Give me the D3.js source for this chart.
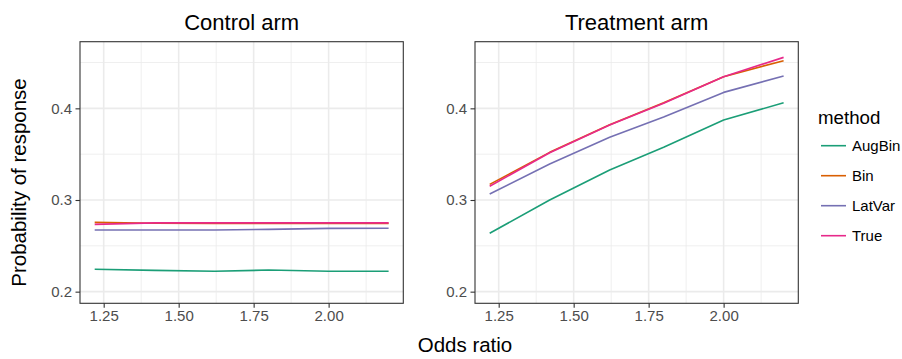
<!DOCTYPE html>
<html>
<head>
<meta charset="utf-8">
<script src="https://cdn.jsdelivr.net/npm/d3@7/dist/d3.min.js"></script>
<style>
  html, body { margin: 0; padding: 0; background: #fff; }
  svg { display: block; font-family: "Liberation Sans", Arial, Helvetica, sans-serif; }
</style>
</head>
<body>
<svg id="chart" width="902" height="359"></svg>
<script>
// ---- data ----
const oddsRatios = [1.22, 1.42, 1.62, 1.80, 2.00, 2.20];
const methods = ["AugBin", "Bin", "LatVar", "True"];
const colors = ["#1B9E77", "#D95F02", "#7570B3", "#E7298A"];
const panels = ["Control arm", "Treatment arm"];

const controlAugBin = [0.2244, 0.2232, 0.2222, 0.2236, 0.2222, 0.2222];
const controlBin    = [0.2756, 0.2746, 0.2745, 0.2745, 0.2745, 0.2745];
const controlLatVar = [0.2673, 0.2673, 0.2672, 0.2680, 0.2690, 0.2691];
const controlTrue   = [0.2734, 0.2750, 0.2750, 0.2750, 0.2750, 0.2750];

const treatAugBin = [0.2637, 0.3000, 0.3327, 0.3575, 0.3872, 0.4061];
const treatBin    = [0.3170, 0.3520, 0.3820, 0.4060, 0.4345, 0.4520];
const treatLatVar = [0.3065, 0.3393, 0.3684, 0.3905, 0.4174, 0.4352];
const treatTrue   = [0.3150, 0.3516, 0.3818, 0.4055, 0.4345, 0.4556];

const xTicks = [1.25, 1.50, 1.75, 2.00];
const xMinor = [1.375, 1.625, 1.875, 2.125];
const yTicks = [0.2, 0.3, 0.4];
const yMinor = [0.25, 0.35, 0.45];

const panelSeries = [
  [controlAugBin, controlBin, controlLatVar, controlTrue],
  [treatAugBin, treatBin, treatLatVar, treatTrue]
];

// ---- layout ----
(function () {
const svg = d3.select("#chart");
const panelBoxes = [
  { left: 80, right: 403.3 },
  { left: 475, right: 798.3 }
];
const pTop = 41.7, pBottom = 303.3;
const xDomain = [1.171, 2.249];
const yDomain = [0.1873, 0.4727];
const color = d3.scaleOrdinal().domain(methods).range(colors);

panelBoxes.forEach((box, pi) => {
  const x = d3.scaleLinear().domain(xDomain).range([box.left, box.right]);
  const y = d3.scaleLinear().domain(yDomain).range([pBottom, pTop]);
  const g = svg.append("g");

  g.append("rect").attr("x", box.left).attr("y", pTop)
    .attr("width", box.right - box.left).attr("height", pBottom - pTop)
    .attr("fill", "#fff");

  // minor grid
  g.selectAll(".ymin").data(yMinor).enter().append("line")
    .attr("x1", box.left).attr("x2", box.right)
    .attr("y1", d => y(d)).attr("y2", d => y(d))
    .attr("stroke", "#EBEBEB").attr("stroke-width", 0.8);
  g.selectAll(".xmin").data(xMinor).enter().append("line")
    .attr("y1", pTop).attr("y2", pBottom)
    .attr("x1", d => x(d)).attr("x2", d => x(d))
    .attr("stroke", "#EBEBEB").attr("stroke-width", 0.8);
  // major grid
  g.selectAll(".ymaj").data(yTicks).enter().append("line")
    .attr("x1", box.left).attr("x2", box.right)
    .attr("y1", d => y(d)).attr("y2", d => y(d))
    .attr("stroke", "#EBEBEB").attr("stroke-width", 1.6);
  g.selectAll(".xmaj").data(xTicks).enter().append("line")
    .attr("y1", pTop).attr("y2", pBottom)
    .attr("x1", d => x(d)).attr("x2", d => x(d))
    .attr("stroke", "#EBEBEB").attr("stroke-width", 1.6);

  // lines
  const line = d3.line().x((d, i) => x(oddsRatios[i])).y(d => y(d));
  panelSeries[pi].forEach((vals, mi) => {
    g.append("path").datum(vals)
      .attr("d", line)
      .attr("fill", "none")
      .attr("stroke", color(methods[mi]))
      .attr("stroke-width", 1.6)
      .attr("stroke-linejoin", "round");
  });

  // border
  g.append("rect").attr("x", box.left).attr("y", pTop)
    .attr("width", box.right - box.left).attr("height", pBottom - pTop)
    .attr("fill", "none").attr("stroke", "#333333").attr("stroke-width", 1.1);

  // axes
  const xAxis = d3.axisBottom(x).tickValues(xTicks).tickFormat(d3.format(".2f"))
    .tickSize(4.5).tickPadding(3);
  const xg = g.append("g").attr("transform", `translate(0,${pBottom})`).call(xAxis);
  xg.select(".domain").remove();
  xg.selectAll(".tick line").attr("stroke", "#333333").attr("stroke-width", 1.1);
  xg.selectAll(".tick text").attr("fill", "#4D4D4D").attr("font-size", 15)
    .attr("font-family", "Liberation Sans, Arial, sans-serif").attr("dy", "0.71em");

  const yAxis = d3.axisLeft(y).tickValues(yTicks).tickFormat(d3.format(".1f"))
    .tickSize(4.5).tickPadding(3.5);
  const yg = g.append("g").attr("transform", `translate(${box.left},0)`).call(yAxis);
  yg.select(".domain").remove();
  yg.selectAll(".tick line").attr("stroke", "#333333").attr("stroke-width", 1.1);
  yg.selectAll(".tick text").attr("fill", "#4D4D4D").attr("font-size", 15)
    .attr("font-family", "Liberation Sans, Arial, sans-serif");

  // panel title
  svg.append("text").attr("x", (box.left + box.right) / 2).attr("y", 30)
    .attr("text-anchor", "middle").attr("font-size", 22).attr("fill", "#000")
    .text(panels[pi]);
});

// axis titles
svg.append("text").attr("x", 465).attr("y", 352)
  .attr("text-anchor", "middle").attr("font-size", 20.5).attr("fill", "#000")
  .text("Odds ratio");
svg.append("text").attr("transform", "translate(26,182.5) rotate(-90)")
  .attr("text-anchor", "middle").attr("font-size", 20.5).attr("fill", "#000")
  .text("Probability of response");

// legend
const lg = svg.append("g");
lg.append("text").attr("x", 818).attr("y", 124).attr("font-size", 18.7).attr("fill", "#000")
  .text("method");
methods.forEach((m, i) => {
  const cy = 145.7 + i * 30;
  lg.append("line").attr("x1", 821).attr("x2", 846).attr("y1", cy).attr("y2", cy)
    .attr("stroke", color(m)).attr("stroke-width", 1.6);
  lg.append("text").attr("x", 852).attr("y", cy).attr("dy", "0.36em")
    .attr("font-size", 15).attr("fill", "#000").text(m);
});
})();
</script>
</body>
</html>
